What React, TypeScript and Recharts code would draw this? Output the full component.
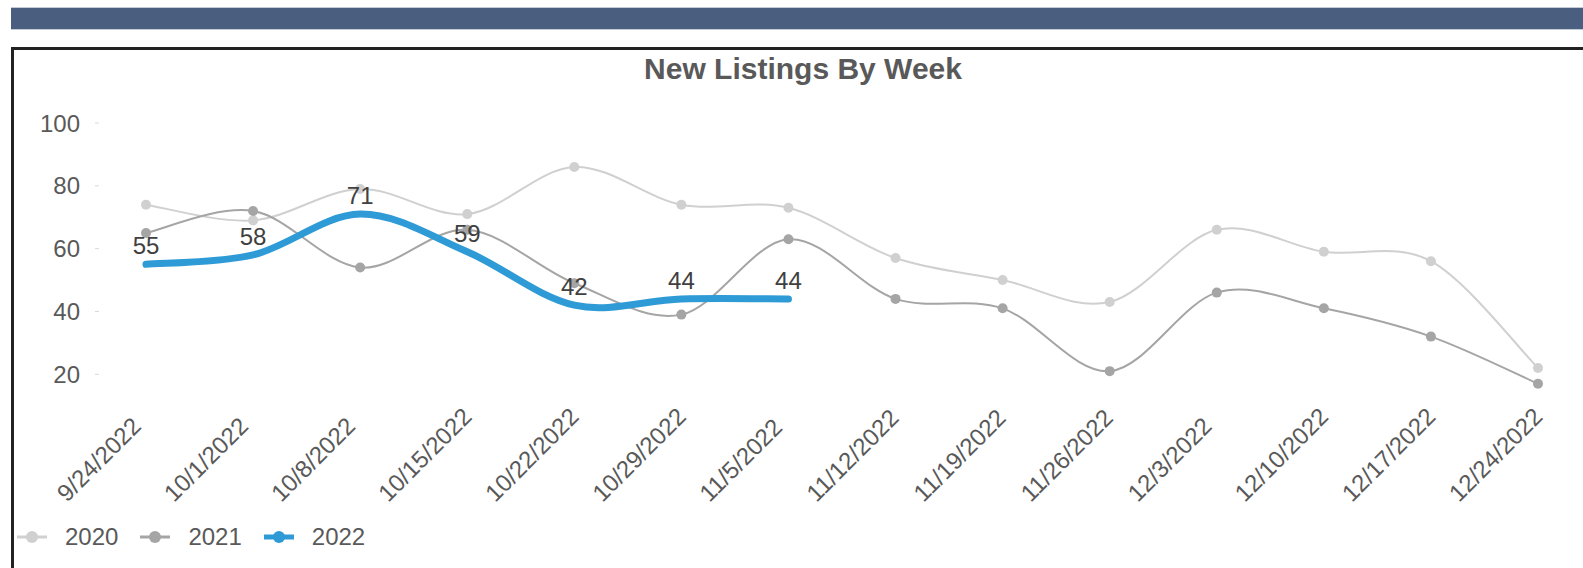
import React from 'react';
import { LineChart, Line, XAxis, YAxis, Legend, LabelList } from 'recharts';

// Week labels (x axis)
const weeks = [
  '9/24/2022', '10/1/2022', '10/8/2022', '10/15/2022', '10/22/2022', '10/29/2022', '11/5/2022',
  '11/12/2022', '11/19/2022', '11/26/2022', '12/3/2022', '12/10/2022', '12/17/2022', '12/24/2022',
];

// New listings per week, by year
const listings2020 = [74, 69, 79, 71, 86, 74, 73, 57, 50, 43, 66, 59, 56, 22];
const listings2021 = [65, 72, 54, 66, 49, 39, 63, 44, 41, 21, 46, 41, 32, 17];
const listings2022 = [55, 58, 71, 59, 42, 44, 44];

const yTicks = [20, 40, 60, 80, 100];

const FONT = '"Liberation Sans", Arial, sans-serif';
const TEXT = '#595959';

const SERIES = [
  { key: 'y2020', name: '2020', color: '#d0d0d0', width: 2 },
  { key: 'y2021', name: '2021', color: '#a5a5a5', width: 2 },
  { key: 'y2022', name: '2022', color: '#2e9ad6', width: 7 },
];

const data = weeks.map((week, i) => ({
  week,
  y2020: listings2020[i],
  y2021: listings2021[i],
  y2022: i < listings2022.length ? listings2022[i] : null,
}));

// Excel-style smoothed line (Catmull-Rom through the points)
function smoothCurve(context: any) {
  let pts: number[][] = [];
  return {
    areaStart() {},
    areaEnd() {},
    lineStart() {
      pts = [];
    },
    lineEnd() {
      const n = pts.length;
      if (!n) return;
      context.moveTo(pts[0][0], pts[0][1]);
      for (let i = 0; i < n - 1; i++) {
        const p0 = pts[Math.max(i - 1, 0)];
        const p1 = pts[i];
        const p2 = pts[i + 1];
        const p3 = pts[Math.min(i + 2, n - 1)];
        context.bezierCurveTo(
          p1[0] + (p2[0] - p0[0]) / 6,
          p1[1] + (p2[1] - p0[1]) / 6,
          p2[0] - (p3[0] - p1[0]) / 6,
          p2[1] - (p3[1] - p1[1]) / 6,
          p2[0],
          p2[1]
        );
      }
    },
    point(x: number, y: number) {
      pts.push([+x, +y]);
    },
  };
}

// labels start at a fixed point below-left of the tick and run up to the right
const XTick = ({ x, y, payload }: any) => {
  const tx = x - 79;
  const ty = y + 113;
  return (
    <text
      x={tx}
      y={ty}
      transform={`rotate(-45 ${tx} ${ty})`}
      textAnchor="start"
      fontSize={24}
      fontFamily={FONT}
      fill={TEXT}
    >
      {payload.value}
    </text>
  );
};

const ValueLabel = ({ x, y, value }: any) =>
  value == null ? null : (
    <text x={x} y={y - 10} textAnchor="middle" fontSize={24} fontFamily={FONT} fill="#404040">
      {value}
    </text>
  );

const LegendContent = () => (
  <div
    style={{
      display: 'flex',
      alignItems: 'center',
      height: 40,
      boxSizing: 'border-box',
      paddingTop: 5,
      fontFamily: FONT,
      fontSize: 24,
      color: TEXT,
    }}
  >
    {SERIES.map((s) => (
      <div key={s.key} style={{ display: 'flex', alignItems: 'center', marginRight: 22 }}>
        <svg width={30} height={14} style={{ marginRight: 18 }}>
          <line x1={0} y1={7} x2={30} y2={7} stroke={s.color} strokeWidth={s.width > 2 ? 5 : 3} />
          <circle cx={15} cy={7} r={6} fill={s.color} />
        </svg>
        <span>{s.name}</span>
      </div>
    ))}
  </div>
);

export default function App() {
  return (
    <div style={{ position: 'absolute', left: 0, top: 0, width: 1583, height: 568, overflow: 'hidden', background: '#fff' }}>
      <div
        style={{
          position: 'absolute',
          left: 11,
          top: 7,
          width: 1600,
          height: 21,
          background: '#4a5e7f',
          borderTop: '1px solid #c3cbd6',
          borderBottom: '1px solid #c3cbd6',
        }}
      />
      <div
        style={{
          position: 'absolute',
          left: 11,
          top: 47,
          width: 1600,
          height: 600,
          borderTop: '3px solid #222',
          borderLeft: '3px solid #222',
        }}
      />
      <div
        style={{
          position: 'absolute',
          left: 0,
          width: 1606,
          top: 52,
          textAlign: 'center',
          fontFamily: FONT,
          fontWeight: 'bold',
          fontSize: 30,
          color: TEXT,
        }}
      >
        New Listings By Week
      </div>
      <div style={{ position: 'absolute', left: 0, top: 0 }}>
        <LineChart width={1583} height={568} data={data} margin={{ top: 123, right: 0, bottom: 14, left: 0 }}>
          <XAxis
            dataKey="week"
            interval={0}
            axisLine={false}
            tickLine={false}
            tickSize={0}
            tickMargin={0}
            height={124}
            padding={{ left: 47, right: 45 }}
            tick={<XTick />}
          />
          <YAxis
            domain={[15, 100]}
            ticks={yTicks}
            width={99}
            axisLine={false}
            tickSize={4}
            tickMargin={15}
            tickLine={{ stroke: '#d9d9d9' }}
            tick={{ fontSize: 24, fontFamily: FONT, fill: TEXT }}
          />
          <Legend
            verticalAlign="bottom"
            align="left"
            wrapperStyle={{ left: 17, width: 600 }}
            content={<LegendContent />}
          />
          <Line
            dataKey="y2020"
            name="2020"
            type={smoothCurve as any}
            stroke="#d0d0d0"
            strokeWidth={2}
            dot={{ r: 5, fill: '#d0d0d0', stroke: 'none' }}
            activeDot={false}
            isAnimationActive={false}
          />
          <Line
            dataKey="y2021"
            name="2021"
            type={smoothCurve as any}
            stroke="#a5a5a5"
            strokeWidth={2}
            dot={{ r: 5, fill: '#a5a5a5', stroke: 'none' }}
            activeDot={false}
            isAnimationActive={false}
          />
          <Line
            dataKey="y2022"
            name="2022"
            type={smoothCurve as any}
            stroke="#2e9ad6"
            strokeWidth={7}
            strokeLinecap="round"
            dot={false}
            activeDot={false}
            isAnimationActive={false}
          >
            <LabelList dataKey="y2022" content={<ValueLabel />} />
          </Line>
        </LineChart>
      </div>
    </div>
  );
}
